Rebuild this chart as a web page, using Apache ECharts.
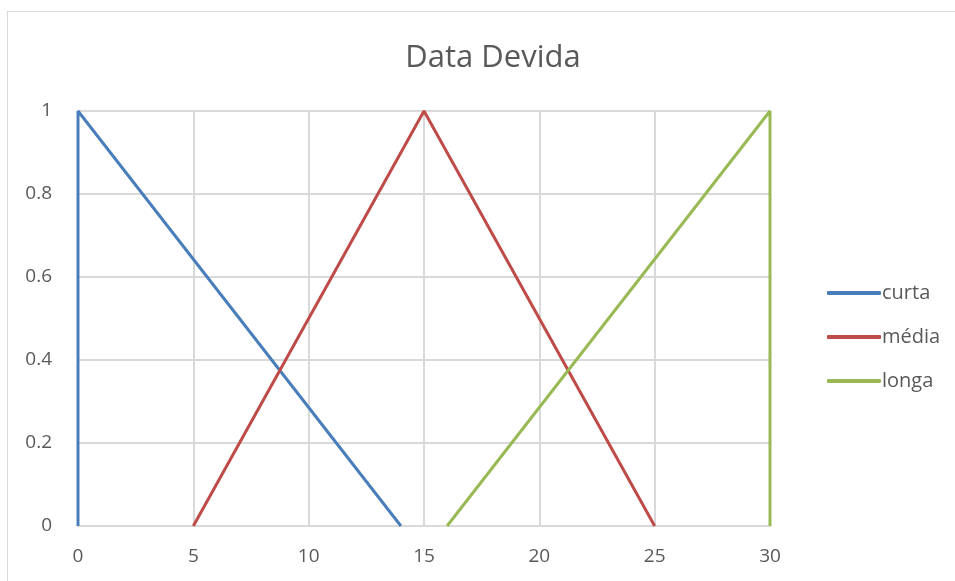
<!DOCTYPE html>
<head>
<meta charset="utf-8">
<title>Data Devida</title>
<style>
  body { margin: 0; background: #fff; }
  #frame { position: absolute; left: 7px; top: 11px; width: 1000px; height: 600px; border: 1px solid #d9d9d9; }
  #home { position: absolute; left: 0; top: 0; width: 955px; height: 581px; }
</style>
</head>
<body>
<div id="frame"></div>
<div id="home"></div>
<script src="https://cdn.jsdelivr.net/npm/echarts@6/dist/echarts.min.js"></script>
<script>
var curta = [[0, 0], [0, 1], [14, 0]];
var media = [[5, 0], [15, 1], [25, 0]];
var longa = [[16, 0], [30, 1], [30, 0]];
var names = ['curta', 'média', 'longa'];
var colors = ['#4a7ebb', '#be4b48', '#98b954'];

var myChart = echarts.init(document.getElementById('home'));
var font = 'Open Sans';
var series = [curta, media, longa].map(function (d, i) {
    return {
        name: names[i],
        type: 'line',
        data: d,
        symbol: 'none',
        lineStyle: { width: 3, color: colors[i] },
        itemStyle: { color: colors[i] }
    };
});
myChart.setOption({
    animation: false,
    title: {
        text: 'Data Devida',
        left: 488, top: 38, textAlign: 'center',
        textStyle: { fontFamily: font, fontSize: 31, fontWeight: 'normal', color: '#595959' }
    },
    legend: {
        orient: 'vertical',
        left: 822, top: 278,
        itemWidth: 54, itemHeight: 4, itemGap: 24,
        icon: 'roundRect',
        textStyle: { fontFamily: font, fontSize: 20, color: '#595959', padding: [0, 0, 0, -4] },
        data: names
    },
    grid: { left: 78, right: 185, top: 111, bottom: 55 },
    xAxis: {
        type: 'value', min: 0, max: 30, interval: 5,
        axisLine: { lineStyle: { color: '#d9d9d9', width: 2 } },
        axisTick: { show: false },
        splitLine: { lineStyle: { color: '#d9d9d9', width: 2 } },
        axisLabel: { fontFamily: font, fontSize: 19, color: '#595959', margin: 21 }
    },
    yAxis: {
        type: 'value', min: 0, max: 1, interval: 0.2,
        axisLine: { show: false },
        axisTick: { show: false },
        splitLine: { lineStyle: { color: '#d9d9d9', width: 2 } },
        axisLabel: { fontFamily: font, fontSize: 19, color: '#595959', margin: 26 }
    },
    series: series
});
</script>
</body>
</html>
